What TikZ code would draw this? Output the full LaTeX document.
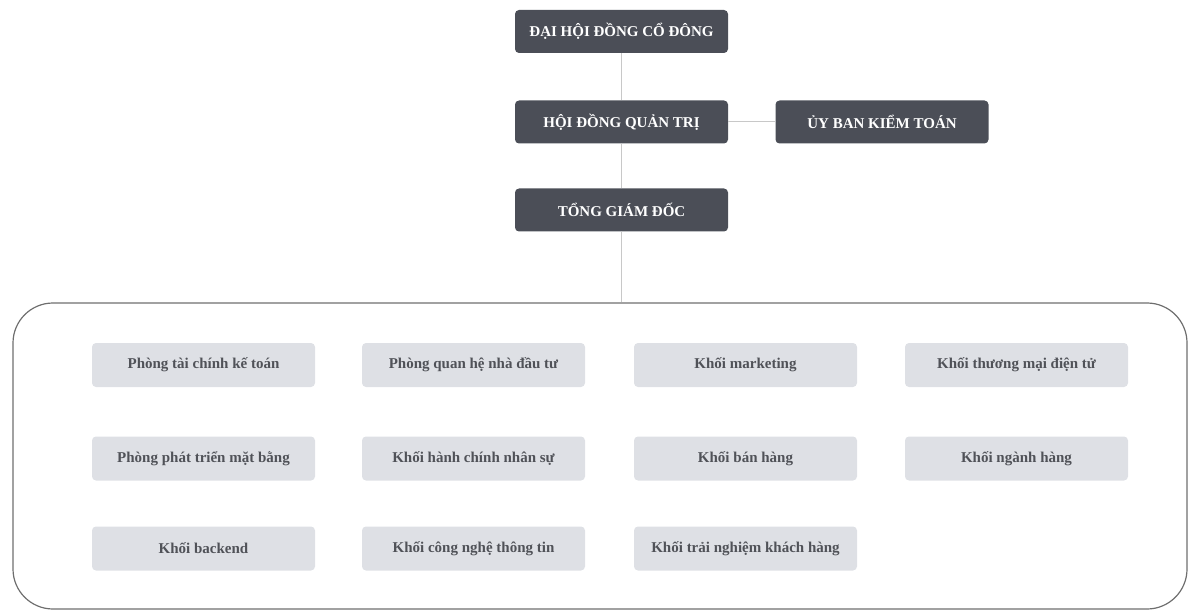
\documentclass[tikz,border=0pt]{standalone}
\usepackage{fontspec}
\setmainfont{Liberation Serif}
\usetikzlibrary{positioning}
\definecolor{boarddark}{RGB}{75, 78, 87}
\definecolor{deptgray}{RGB}{222, 224, 229}
\definecolor{depttext}{RGB}{80, 82, 88}
\definecolor{linkgray}{RGB}{200, 200, 200}
\definecolor{framegray}{RGB}{110, 110, 110}
\tikzset{
	board/.style={rectangle, rounded corners=4pt, fill=boarddark, text=white,
		font=\bfseries\fontsize{15}{17}\selectfont,
		minimum width=213pt, minimum height=43pt, inner sep=0pt},
	dept/.style={rectangle, rounded corners=4pt, fill=deptgray, text=depttext,
		font=\bfseries\fontsize{15}{17}\selectfont,
		minimum width=223pt, minimum height=44pt, inner sep=0pt},
	link/.style={draw=linkgray, line width=1pt}
}

\begin{document}
\begin{tikzpicture}[
    x=1pt, y=-1pt,
    % Define a style for the large rounded frame round the departments
    frame/.style={rectangle, draw=framegray, line width=1.2pt, rounded corners=40pt,
        minimum width=1174pt, minimum height=306pt, inner sep=0pt}
]
\useasboundingbox (0, 0) rectangle (1191, 612);

% --- TOP: BOARD LEVEL ---
\node[board] (agm) at (621.5, 31.5) {ĐẠI HỘI ĐỒNG CỔ ĐÔNG};
\node[board] (hdqt) at (621.5, 122) {HỘI ĐỒNG QUẢN TRỊ};
\node[board] (audit) at (882, 122) {ỦY BAN KIỂM TOÁN};
\node[board] (ceo) at (621.5, 210) {TỔNG GIÁM ĐỐC};

% --- BOTTOM: DEPARTMENTS FRAME ---
\node[frame] (units) at (600, 456) {};

% Connectors between the levels
\draw[link] (agm) -- (hdqt);
\draw[link] (hdqt) -- (audit);
\draw[link] (hdqt) -- (ceo);
\draw[link] (ceo.south) -- (ceo.south |- units.north);

% Row 1
\node[dept] (finance) at (203.5, 365) {Phòng tài chính kế toán};
\node[dept] (investor) at (473.5, 365) {Phòng quan hệ nhà đầu tư};
\node[dept] (marketing) at (745.5, 365) {Khối marketing};
\node[dept] (ecommerce) at (1016.5, 365) {Khối thương mại điện tử};

% Row 2
\node[dept] (premises) at (203.5, 458.5) {Phòng phát triển mặt bằng};
\node[dept] (hr) at (473.5, 458.5) {Khối hành chính nhân sự};
\node[dept] (sales) at (745.5, 458.5) {Khối bán hàng};
\node[dept] (category) at (1016.5, 458.5) {Khối ngành hàng};

% Row 3
\node[dept] (backend) at (203.5, 548.5) {Khối backend};
\node[dept] (it) at (473.5, 548.5) {Khối công nghệ thông tin};
\node[dept] (cx) at (745.5, 548.5) {Khối trải nghiệm khách hàng};

\end{tikzpicture}
\end{document}
